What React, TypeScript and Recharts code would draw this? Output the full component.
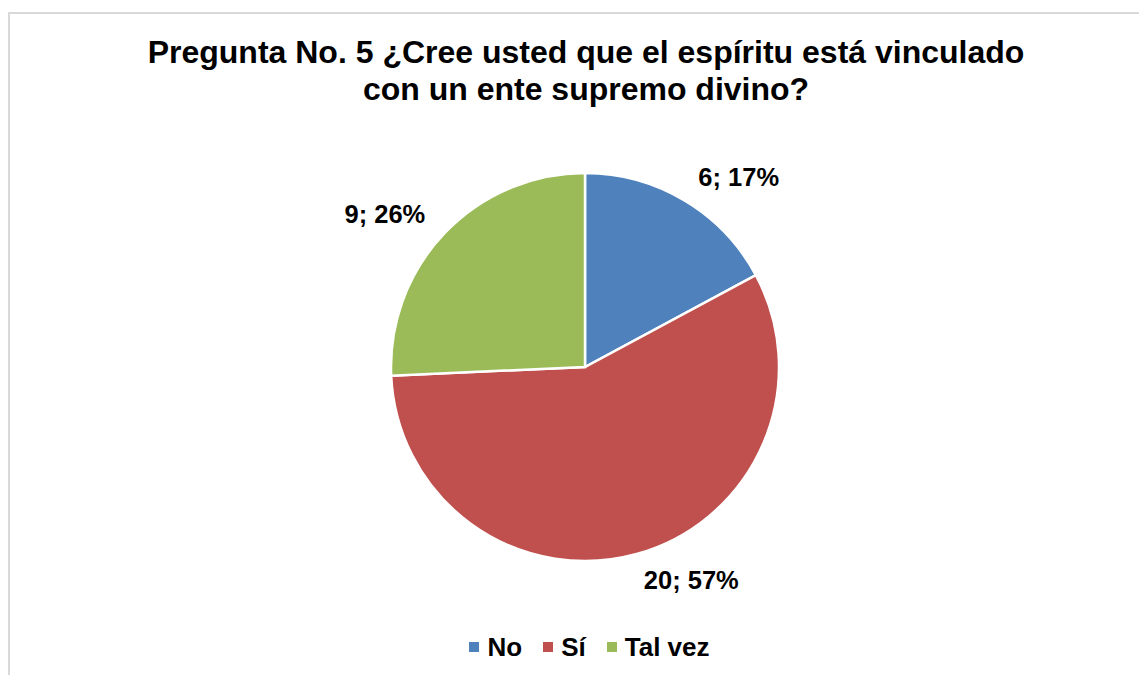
import React from "react";
import { PieChart, Pie, Cell, Legend } from "recharts";

const categories = ["No", "Sí", "Tal vez"];
const counts = [6, 20, 9];
const percents = ["17%", "57%", "26%"];
const colors = ["#4F81BD", "#C0504D", "#9BBB59"];
const titleLines = [
  "Pregunta No. 5 ¿Cree usted que el espíritu está vinculado",
  "con un ente supremo divino?",
];

const data = categories.map((name, i) => ({
  name,
  value: counts[i],
  pct: percents[i],
}));

const FONT = "'Liberation Sans', Arial, sans-serif";
const RAD = Math.PI / 180;

const renderLabel = (props: any) => {
  const { cx, cy, midAngle, outerRadius, index } = props;
  const r = outerRadius + 27;
  const x = cx + r * Math.cos(-midAngle * RAD);
  const y = cy + r * Math.sin(-midAngle * RAD);
  return (
    <text
      x={x}
      y={y}
      textAnchor={x > cx ? "start" : "end"}
      dominantBaseline="central"
      fontFamily={FONT}
      fontWeight="bold"
      fontSize={25.5}
      fill="#000"
    >
      {`${data[index].value}; ${data[index].pct}`}
    </text>
  );
};

const LegendContent = () => (
  <div
    style={{
      display: "flex",
      justifyContent: "center",
      alignItems: "center",
      fontFamily: FONT,
      fontWeight: "bold",
      fontSize: 26,
      color: "#000",
      height: 30,
    }}
  >
    {data.map((d, i) => (
      <div
        key={d.name}
        style={{ display: "flex", alignItems: "center", marginLeft: i === 0 ? 0 : 21 }}
      >
        <span
          style={{
            display: "inline-block",
            width: 10,
            height: 10,
            background: colors[i],
            marginRight: 8,
          }}
        />
        <span style={{ lineHeight: "30px" }}>{d.name}</span>
      </div>
    ))}
  </div>
);

export default function App() {
  return (
    <div
      style={{
        position: "relative",
        width: 1139,
        height: 667,
        overflow: "hidden",
        background: "#fff",
      }}
    >
      <div
        style={{
          position: "absolute",
          left: 0,
          top: 4,
          width: 1200,
          height: 720,
          border: "2px solid #D9D9D9",
          boxSizing: "border-box",
        }}
      />
      <div
        style={{
          position: "absolute",
          left: 0,
          top: 26,
          width: 1156,
          textAlign: "center",
          fontFamily: FONT,
          fontWeight: "bold",
          fontSize: 32,
          lineHeight: "37px",
          color: "#000",
        }}
      >
        {titleLines.map((t) => (
          <div key={t}>{t}</div>
        ))}
      </div>
      <div style={{ position: "absolute", left: 0, top: 0 }}>
        <PieChart width={1139} height={667}>
          <Pie
            data={data}
            dataKey="value"
            nameKey="name"
            cx={572}
            cy={354}
            outerRadius={194}
            startAngle={90}
            endAngle={-270}
            stroke="#FFFFFF"
            strokeWidth={2.5}
            label={renderLabel}
            labelLine={false}
            isAnimationActive={false}
          >
            {data.map((d, i) => (
              <Cell key={d.name} fill={colors[i]} />
            ))}
          </Pie>
          <Legend
            content={<LegendContent />}
            wrapperStyle={{ position: "absolute", top: 624, left: 12, width: 1139, height: 30 }}
          />
        </PieChart>
      </div>
    </div>
  );
}
